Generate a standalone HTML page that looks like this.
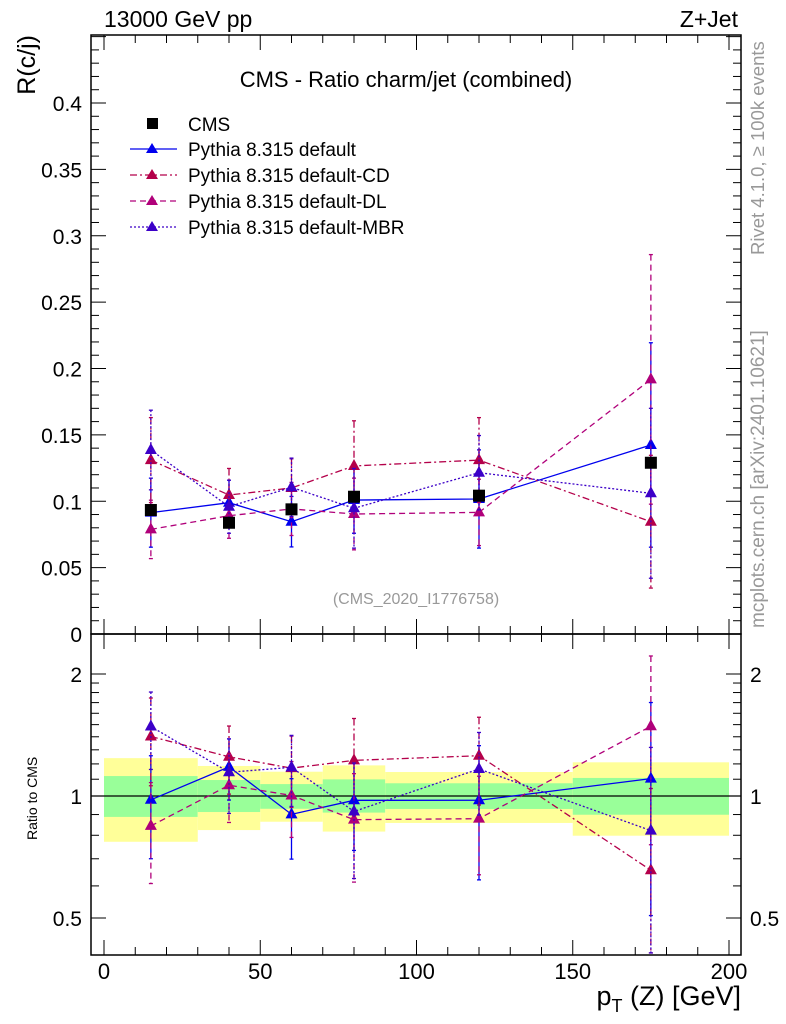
<!DOCTYPE html>
<html><head><meta charset="utf-8"><style>
body{margin:0;background:#fff}
svg{display:block;font-family:"Liberation Sans",sans-serif}
</style></head><body>
<svg id="c" width="786" height="1024" xmlns="http://www.w3.org/2000/svg"></svg>
<script>
const xs=[15,40,60,80,120,175];
const binLo=[0,30,50,70,90,150];
const binHi=[30,50,70,90,150,200];
const cmsVal=[0.0934,0.0838,0.0939,0.1034,0.1042,0.129];
const defVal=[0.0914,0.0989,0.0846,0.1009,0.1017,0.1424];
const defErr=[0.026,0.017,0.019,0.025,0.037,0.077];
const cdVal=[0.131,0.1047,0.110,0.1266,0.131,0.0846];
const cdErr=[0.032,0.02,0.022,0.034,0.032,0.05];
const dlVal=[0.0788,0.0891,0.0942,0.0904,0.0916,0.1918];
const dlErr=[0.022,0.017,0.02,0.027,0.025,0.094];
const mbrVal=[0.1386,0.0959,0.1105,0.0947,0.1215,0.106];
const mbrErr=[0.030,0.02,0.022,0.03,0.028,0.064];
const bandYelLo=[0.771,0.824,0.864,0.817,0.858,0.798];
const bandYelHi=[1.24,1.186,1.148,1.19,1.146,1.211];
const bandGrnLo=[0.888,0.913,0.930,0.910,0.929,0.899];
const bandGrnHi=[1.12,1.095,1.070,1.099,1.075,1.108];
const mainTicks=[0,0.05,0.1,0.15,0.2,0.25,0.3,0.35,0.4];
const mainTickLabels=["0","0.05","0.1","0.15","0.2","0.25","0.3","0.35","0.4"];
const ratioTicks=[0.5,1,2];
const ratioTickLabels=["0.5","1","2"];
const xTicks=[0,50,100,150,200];
const xTickLabels=["0","50","100","150","200"];

const L=91,R=741,T=35,MB=634,RB=955;
const X=v=>104+v*3.125;
const Y=v=>634-v*1327.5;
const YR=v=>796-Math.log2(v)*122;
const svg=document.getElementById('c');
const NS="http://www.w3.org/2000/svg";
function el(tag,attrs,parent){const e=document.createElementNS(NS,tag);for(const k in attrs)e.setAttribute(k,attrs[k]);(parent||svg).appendChild(e);return e;}
function txt(s,attrs,parent){const e=el('text',attrs,parent);e.textContent=s;return e;}

for(let i=0;i<xs.length;i++){
 const b=el('rect',{x:X(binLo[i]),y:YR(bandYelHi[i]),width:X(binHi[i])-X(binLo[i]),height:YR(bandYelLo[i])-YR(bandYelHi[i]),fill:'#ffff99'});
 
 
 const g=el('rect',{x:X(binLo[i]),y:YR(bandGrnHi[i]),width:X(binHi[i])-X(binLo[i]),height:YR(bandGrnLo[i])-YR(bandGrnHi[i]),fill:'#99ff99'});
 
 
}
el('line',{x1:L,x2:R,y1:YR(1),y2:YR(1),stroke:'#000','stroke-width':1.3});

const series=[
 {name:'default',val:defVal,err:defErr,color:'#0000ee',dash:''},
 {name:'default-cd',val:cdVal,err:cdErr,color:'#b4004a',dash:'7,3,2,3'},
 {name:'default-dl',val:dlVal,err:dlErr,color:'#b0007a',dash:'6,4'},
 {name:'default-mbr',val:mbrVal,err:mbrErr,color:'#3c00c8',dash:'2,2'}
];
function tri(cx,cy,color,parent,name){
 const t=el('polygon',{points:`${cx},${cy-7} ${cx-6},${cy+4} ${cx+6},${cy+4}`,fill:color},parent);
 
 
}
function drawSeries(s,yf,vals,errs,lo,hi){
 const g=el('g',{});
 
 
 const pts=xs.map((x,i)=>X(x)+','+yf(vals[i])).join(' ');
 el('polyline',{points:pts,fill:'none',stroke:s.color,'stroke-width':1.3,'stroke-dasharray':s.dash},g);
 xs.forEach((x,i)=>{
  const a=Math.min(Math.max(vals[i]+errs[i],lo),hi), b=Math.max(Math.min(vals[i]-errs[i],hi),lo);
  el('line',{x1:X(x),x2:X(x),y1:yf(a),y2:yf(b),stroke:s.color,'stroke-width':1.3,'stroke-dasharray':s.dash},g);
  el('line',{x1:X(x)-2,x2:X(x)+2,y1:yf(a),y2:yf(a),stroke:s.color,'stroke-width':1.3},g);
  el('line',{x1:X(x)-2,x2:X(x)+2,y1:yf(b),y2:yf(b),stroke:s.color,'stroke-width':1.3},g);
  tri(X(x),yf(vals[i]),s.color,g,'marker-'+s.name);
 });
}
series.forEach(s=>drawSeries(s,Y,s.val,s.err,0,0.45));
cmsVal.forEach((v,i)=>{
 const r=el('rect',{x:X(xs[i])-6,y:Y(v)-6,width:12,height:12,fill:'#000'});
 
 
});
series.forEach(s=>drawSeries(s,YR,s.val.map((v,i)=>v/cmsVal[i]),s.err.map((e,i)=>e/cmsVal[i]),0.41,2.5));

el('rect',{x:L,y:T,width:R-L,height:MB-T,fill:'none',stroke:'#000','stroke-width':1.5});
el('rect',{x:L,y:MB,width:R-L,height:RB-MB,fill:'none',stroke:'#000','stroke-width':1.5});
for(let k=0;k<=45;k++){const v=k*0.01,y=Y(v),len=(k%5==0)?15:8;
 el('line',{x1:L,x2:L+len,y1:y,y2:y,stroke:'#000'});el('line',{x1:R,x2:R-len,y1:y,y2:y,stroke:'#000'});}
mainTicks.forEach((v,i)=>{txt(mainTickLabels[i],{x:82,y:Y(v)+8,'font-size':21,'text-anchor':'end'});});
const rmin=[0.5,0.6,0.7,0.8,0.9,1,1.1,1.2,1.3,1.4,1.5,1.6,1.7,1.8,1.9,2];
rmin.forEach(v=>{const y=YR(v),len=ratioTicks.includes(v)?15:8;
 el('line',{x1:L,x2:L+len,y1:y,y2:y,stroke:'#000'});el('line',{x1:R,x2:R-len,y1:y,y2:y,stroke:'#000'});});
ratioTicks.forEach((v,i)=>{txt(ratioTickLabels[i],{x:82,y:YR(v)+8,'font-size':21,'text-anchor':'end'});
 txt(ratioTickLabels[i],{x:750,y:YR(v)+8,'font-size':21});});
for(let v=0;v<=200;v+=10){const x=X(v),len=(v%50==0)?15:8;
 el('line',{x1:x,x2:x,y1:MB,y2:MB-len,stroke:'#000'});el('line',{x1:x,x2:x,y1:T,y2:T+len,stroke:'#000'});
 el('line',{x1:x,x2:x,y1:RB,y2:RB-len,stroke:'#000'});el('line',{x1:x,x2:x,y1:MB,y2:MB+len,stroke:'#000'});}
xTicks.forEach((v,i)=>txt(xTickLabels[i],{x:X(v),y:979,'font-size':22,'text-anchor':'middle'}));
</script>
<div style="position:absolute;left:0;top:0;width:786px;height:1024px;pointer-events:none">
<svg width="786" height="1024" style="position:absolute;left:0;top:0" font-family="Liberation Sans, sans-serif">
<text x="104" y="27" font-size="23">13000 GeV pp</text>
<text x="738" y="27" font-size="23" text-anchor="end">Z+Jet</text>
<text transform="translate(35,35) rotate(-90)" font-size="25" text-anchor="end">R(c/j)</text>
<text transform="translate(37,955) rotate(-90)" font-size="14" x="115">Ratio to CMS</text>
<text x="406" y="87" font-size="22" text-anchor="middle">CMS - Ratio charm/jet (combined)</text>
<text x="416" y="604" font-size="16" fill="#999" text-anchor="middle">(CMS_2020_I1776758)</text>
<text transform="translate(764,255) rotate(-90)" font-size="18.5" fill="#999">Rivet 4.1.0, ≥ 100k events</text>
<text transform="translate(764,628) rotate(-90)" font-size="19" fill="#999">mcplots.cern.ch [arXiv:2401.10621]</text>
<text x="741" y="1005" font-size="27" text-anchor="end">p<tspan font-size="18" dy="7">T</tspan><tspan dy="-7"> (Z) [GeV]</tspan></text>
<g font-size="19">
<rect x="147" y="118" width="11" height="11" fill="#000"/>
<text x="188" y="131">CMS</text>
<line x1="130" x2="177" y1="149" y2="149" stroke="#0000ee" stroke-width="1.3"/>
<polygon points="152,143 146,153 158,153" fill="#0000ee"/>
<text x="188" y="156">Pythia 8.315 default</text>
<line x1="130" x2="177" y1="175" y2="175" stroke="#b4004a" stroke-width="1.3" stroke-dasharray="7,3,2,3"/>
<polygon points="152,169 146,179 158,179" fill="#b4004a"/>
<text x="188" y="182">Pythia 8.315 default-CD</text>
<line x1="130" x2="177" y1="201" y2="201" stroke="#b0007a" stroke-width="1.3" stroke-dasharray="6,4"/>
<polygon points="152,195 146,205 158,205" fill="#b0007a"/>
<text x="188" y="208">Pythia 8.315 default-DL</text>
<line x1="130" x2="177" y1="227" y2="227" stroke="#3c00c8" stroke-width="1.3" stroke-dasharray="2,2"/>
<polygon points="152,221 146,231 158,231" fill="#3c00c8"/>
<text x="188" y="234">Pythia 8.315 default-MBR</text>
</g>
</svg></div>
</body></html>
